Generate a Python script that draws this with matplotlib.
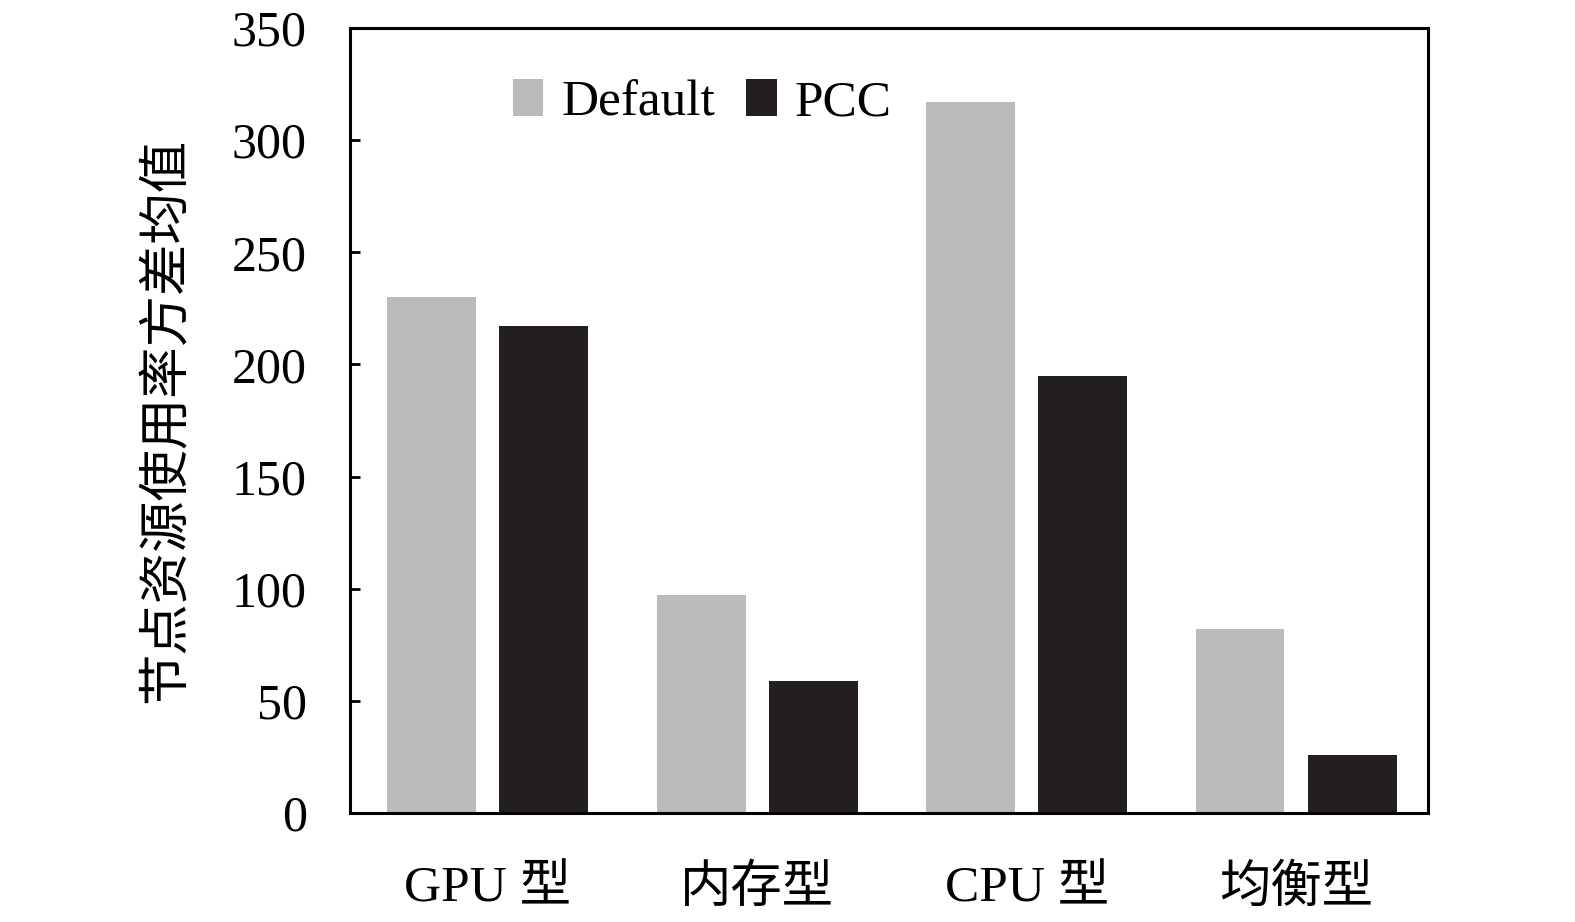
import matplotlib
matplotlib.use("Agg")
import matplotlib.pyplot as plt
import numpy as np

plt.rcParams['font.family'] = ['Liberation Serif', 'Noto Sans CJK SC', 'DejaVu Sans']

categories = ['GPU 型', '内存型', 'CPU 型', '均衡型']
default_vals = [230, 97, 317, 82]
pcc_vals = [217, 59, 195, 26]
yticks = [0, 50, 100, 150, 200, 250, 300, 350]
ylabel = '节点资源使用率方差均值'

fig = plt.figure(figsize=(15.75, 9.22), dpi=100)
ax = fig.add_axes([0.2222, 0.1182, 0.6845, 0.8514])

x = np.arange(len(categories))
w = 0.33
off = 0.208
ax.bar(x - off, default_vals, width=w, color='#BBBBBB', label='Default')
ax.bar(x + off, pcc_vals, width=w, color='#231F20', label='PCC')

ax.set_xlim(-0.512, 3.49)
ax.set_ylim(0, 350)
ax.set_yticks(yticks)
ax.set_xticks(x)
ax.set_xticklabels(categories)

for s in ax.spines.values():
    s.set_linewidth(2.2)
ax.tick_params(axis='y', direction='in', length=7, width=2, labelsize=36, pad=31)
ax.tick_params(axis='x', length=0, labelsize=37, pad=38)

ax.set_ylabel(ylabel, fontsize=37)
ax.yaxis.set_label_coords(-0.147, 0.5)

ax.legend(loc='center left', bbox_to_anchor=(0.127, 0.905), frameon=False,
          ncol=2, fontsize=37, borderpad=0, handlelength=0.6, handleheight=0.75,
          handletextpad=0.35, columnspacing=0.6)

fig.savefig('out.png', dpi=100)
